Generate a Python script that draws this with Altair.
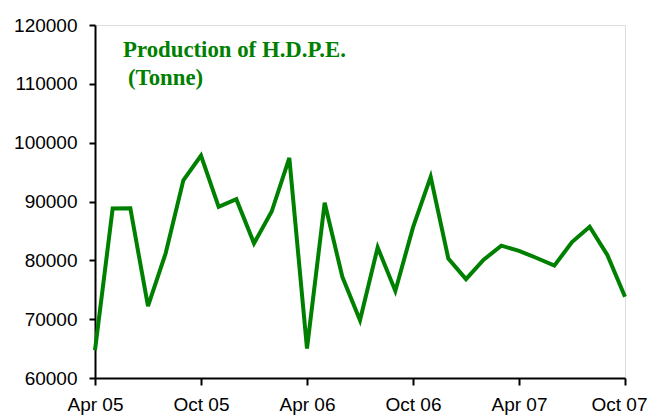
import altair as alt
import pandas as pd

months = ["Apr 05","May 05","Jun 05","Jul 05","Aug 05","Sep 05","Oct 05","Nov 05","Dec 05",
          "Jan 06","Feb 06","Mar 06","Apr 06","May 06","Jun 06","Jul 06","Aug 06","Sep 06",
          "Oct 06","Nov 06","Dec 06","Jan 07","Feb 07","Mar 07","Apr 07","May 07","Jun 07",
          "Jul 07","Aug 07","Sep 07","Oct 07"]
production = [64700, 88800, 88850, 72200, 81200, 93600, 97800, 89100, 90400, 82900, 88300,
              97400, 65000, 89800, 77200, 69800, 82200, 74800, 85600, 94200, 80300, 76800,
              80100, 82500, 81600, 80400, 79100, 83100, 85700, 80900, 73800]
tick_labels = ["Apr 05", "Oct 05", "Apr 06", "Oct 06", "Apr 07", "Oct 07"]
y_ticks = [60000, 70000, 80000, 90000, 100000, 110000, 120000]
title_lines = ["Production of H.D.P.E.", "(Tonne)"]

df = pd.DataFrame({"month": months, "idx": list(range(len(months))), "value": production})

label_arr = "[" + ",".join("'" + t + "'" for t in tick_labels) + "]"

line = alt.Chart(df).mark_line(color="#008000", strokeWidth=4).encode(
    x=alt.X("idx:Q", scale=alt.Scale(domain=[0, 30], nice=False, zero=False),
            axis=alt.Axis(values=[0, 6, 12, 18, 24, 30], labelExpr=label_arr + "[round(datum.value/6)]",
                          title=None, grid=False, tickSize=7, labelPadding=10,
                          labelFontSize=19, labelFont="Liberation Sans", labelColor="black",
                          domainColor="black", domainWidth=2, tickColor="black", tickWidth=2,
                          labelOffset={"condition": {"test": "datum.value == 30", "value": -6}, "value": 0},
                          labelFlush=False)),
    y=alt.Y("value:Q", scale=alt.Scale(domain=[60000, 120000], nice=False, zero=False),
            axis=alt.Axis(values=y_ticks, format="d", title=None, grid=False, tickSize=6,
                          labelPadding=12, labelFontSize=19, labelFont="Liberation Sans",
                          labelColor="black", domainColor="black", domainWidth=2,
                          tickColor="black", tickWidth=2)),
)

t1 = alt.Chart(pd.DataFrame({"t": [title_lines[0]]})).mark_text(
    align="left", baseline="alphabetic", font="Liberation Serif", fontWeight="bold",
    fontSize=22.8, color="#008000").encode(text="t:N", x=alt.value(28), y=alt.value(32))
t2 = alt.Chart(pd.DataFrame({"t": [title_lines[1]]})).mark_text(
    align="left", baseline="alphabetic", font="Liberation Serif", fontWeight="bold",
    fontSize=22.8, color="#008000").encode(text="t:N", x=alt.value(33), y=alt.value(60))

chart = alt.layer(line, t1, t2).properties(
    width=530, height=353,
    autosize=alt.AutoSizeParams(type="none"),
    padding={"left": 87, "top": 17, "right": 23, "bottom": 38},
).configure_view(stroke="black", strokeWidth=2).configure(background="white")

chart.save("out.html", embed_options={"renderer": "svg", "actions": False})
